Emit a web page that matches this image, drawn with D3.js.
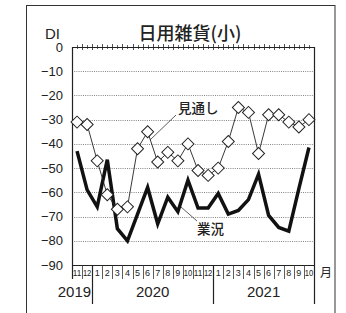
<!DOCTYPE html>
<html><head><meta charset="utf-8">
<script src="https://cdn.jsdelivr.net/npm/d3@7"></script>
<style>body{margin:0;background:#fff}svg{display:block}</style>
</head><body>
<script>
const monthLabels = ["11","12","1","2","3","4","5","6","7","8","9","10","11","12","1","2","3","4","5","6","7","8","9","10"];
const outlook = [-31,-32,-47,-61,-67,-66,-42,-35,-47.5,-43.5,-47,-40,-51,-53,-50,-39,-25,-27,-44,-28,-28,-31,-33,-30];
const business = [-43,-59,-66,-46.5,-75,-80,-69,-58,-73,-62,-68,-55,-66.5,-66.5,-60.5,-69,-67.5,-63,-52.5,-69.5,-74.5,-76,-58.5,-41.5];
const yTicks = [0,-10,-20,-30,-40,-50,-60,-70,-80,-90];
const years = [{label:"2019", from:0, to:2, anchor:"end"},{label:"2020", from:2, to:14, anchor:"middle"},{label:"2021", from:14, to:24, anchor:"middle"}];

const W=346,H=313;
const svg=d3.select("body").append("svg").attr("width",W).attr("height",H);
const font="'Noto Sans CJK JP','Liberation Sans',Arial,sans-serif";
const L=72,R=314,T=47,B=265;
const x=d3.scaleBand().domain(d3.range(monthLabels.length)).range([L,R]).padding(0);
const y=d3.scaleLinear().domain([0,-90]).range([T,B]);
const cx=i=>x(i)+x.bandwidth()/2;

// outer frame
svg.append("rect").attr("x",26.5).attr("y",5.5).attr("width",308.5).attr("height",320).attr("fill","none").attr("stroke","#333").attr("stroke-width",1);

// title
svg.append("text").attr("x",190).attr("y",40).attr("text-anchor","middle").attr("font-family",font).attr("font-size",18).attr("font-weight",500).attr("fill","#222").text("日用雑貨(小)");
svg.append("text").attr("x",45).attr("y",39).attr("font-family","'Liberation Sans',Arial,sans-serif").attr("font-size",15).attr("fill","#222").text("DI");

// grid
svg.append("g").selectAll("line").data(yTicks.filter(v=>v!==0&&v!==-90)).join("line")
 .attr("x1",L).attr("x2",R).attr("y1",d=>Math.round(y(d))+0.5).attr("y2",d=>Math.round(y(d))+0.5)
 .attr("stroke","#666").attr("stroke-width",0.8).attr("stroke-dasharray","1,1.2");

// y labels
svg.append("g").selectAll("text").data(yTicks).join("text")
 .attr("x",63).attr("y",d=>y(d)+4.5).attr("text-anchor","end")
 .attr("font-family","'Liberation Sans',Arial,sans-serif").attr("font-size",13).attr("fill","#222")
 .text(d=>d===0?"0":"\u2212"+Math.abs(d));

// frame of plot
const fr=svg.append("g").attr("stroke","#222").attr("fill","none");
fr.append("line").attr("x1",L).attr("x2",R).attr("y1",T+0.5).attr("y2",T+0.5).attr("stroke-width",1);
fr.append("line").attr("x1",L).attr("x2",R).attr("y1",B+0.5).attr("y2",B+0.5).attr("stroke-width",1);
fr.append("line").attr("x1",L+0.5).attr("x2",L+0.5).attr("y1",T).attr("y2",279).attr("stroke-width",1.2);
// top ticks
const bounds=d3.range(monthLabels.length+1).map(i=>i<monthLabels.length?x(i):R);
svg.append("g").selectAll("line").data(bounds.slice(1,-1)).join("line")
 .attr("x1",d=>Math.round(d)+0.5).attr("x2",d=>Math.round(d)+0.5).attr("y1",T-3).attr("y2",T+3).attr("stroke","#222").attr("stroke-width",0.8);
svg.append("g").selectAll("line").data(d3.range(monthLabels.length)).join("line")
 .attr("x1",d=>Math.round(cx(d))+0.5).attr("x2",d=>Math.round(cx(d))+0.5).attr("y1",T-2).attr("y2",T+2).attr("stroke","#222").attr("stroke-width",0.7);

// month separators
svg.append("g").selectAll("line").data(bounds.slice(1,-1)).join("line")
 .attr("x1",d=>Math.round(d)+0.5).attr("x2",d=>Math.round(d)+0.5).attr("y1",B).attr("y2",279).attr("stroke","#333").attr("stroke-width",0.8);
// year separators
svg.append("g").selectAll("line").data([2,14,24]).join("line")
 .attr("x1",d=>Math.round(d<24?x(d):R)+0.5).attr("x2",d=>Math.round(d<24?x(d):R)+0.5).attr("y1",B).attr("y2",304).attr("stroke","#222").attr("stroke-width",1.2);
// right border
svg.append("line").attr("x1",R+0.5).attr("x2",R+0.5).attr("y1",T).attr("y2",B).attr("stroke","#222").attr("stroke-width",1.2);

// month labels
svg.append("g").selectAll("text").data(monthLabels).join("text")
 .attr("x",(d,i)=>cx(i)).attr("y",276).attr("text-anchor","middle")
 .attr("font-family","'Liberation Sans Narrow','Liberation Sans',Arial,sans-serif").attr("font-size",9).attr("fill","#222")
 .each(function(d){ if(d.length>1) d3.select(this).attr("textLength",8.5).attr("lengthAdjust","spacingAndGlyphs"); })
 .text(d=>d);
svg.append("text").attr("x",320).attr("y",277).attr("font-family",font).attr("font-size",12).attr("fill","#222").text("月");
// years
svg.append("g").selectAll("text").data(years).join("text")
 .attr("x",d=>d.anchor==="end"?x(d.to)-1:(x(d.from)+(d.to<24?x(d.to):R))/2)
 .attr("y",297).attr("text-anchor",d=>d.anchor)
 .attr("font-family","'Liberation Sans',Arial,sans-serif").attr("font-size",15).attr("fill","#222").text(d=>d.label);

// lines
const line=d3.line().x((d,i)=>cx(i)).y(d=>y(d));
svg.append("path").datum(business).attr("d",line).attr("fill","none").attr("stroke","#111").attr("stroke-width",3.5).attr("stroke-linejoin","miter");
svg.append("path").datum(outlook).attr("d",line).attr("fill","none").attr("stroke","#222").attr("stroke-width",0.9);
const sym=d3.symbol().type(d3.symbolSquare).size(72);
svg.append("g").selectAll("path").data(outlook).join("path")
 .attr("d",sym).attr("transform",(d,i)=>`translate(${cx(i)},${y(d)}) rotate(45)`)
 .attr("fill","#fff").attr("stroke","#222").attr("stroke-width",1);

// annotations
svg.append("line").attr("x1",176).attr("y1",115).attr("x2",150).attr("y2",140).attr("stroke","#333").attr("stroke-width",0.8);
svg.append("text").attr("x",178).attr("y",113).attr("font-family",font).attr("font-size",13.5).attr("font-weight",500).attr("fill","#222").text("見通し");
svg.append("line").attr("x1",181).attr("y1",207).attr("x2",197).attr("y2",221).attr("stroke","#333").attr("stroke-width",0.8);
svg.append("text").attr("x",197).attr("y",234).attr("font-family",font).attr("font-size",13.5).attr("font-weight",500).attr("fill","#222").text("業況");
</script>
</body></html>
